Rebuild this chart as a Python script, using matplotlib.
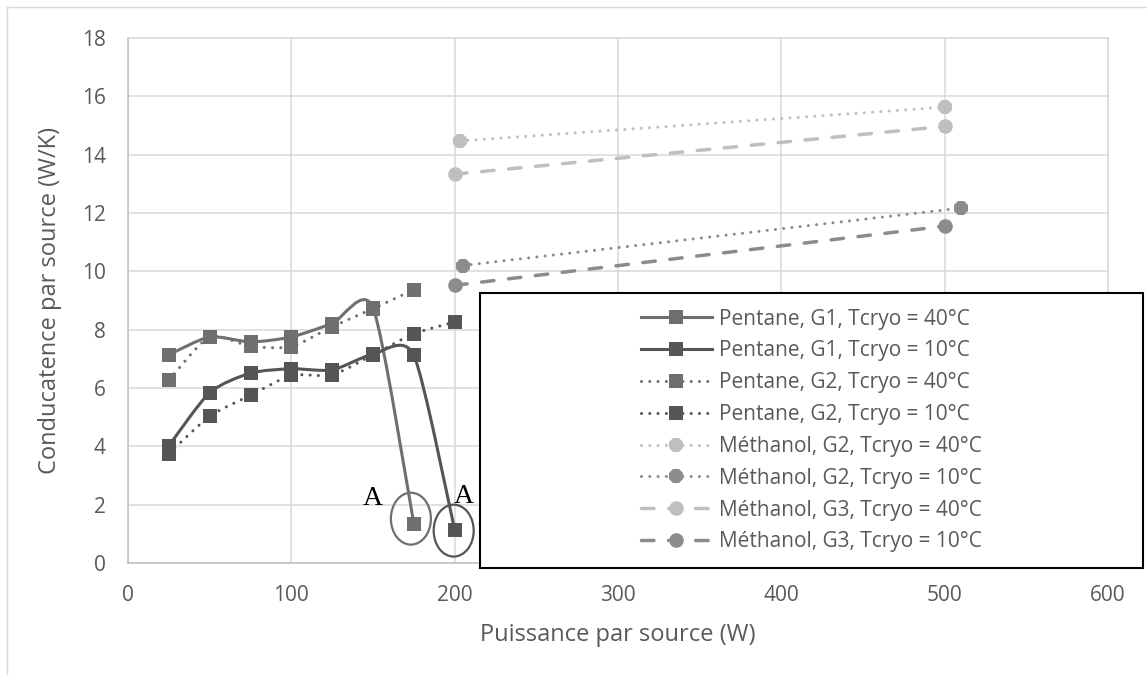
import numpy as np
import matplotlib
matplotlib.use("Agg")
import matplotlib.pyplot as plt
from matplotlib.path import Path
from matplotlib.patches import PathPatch, Ellipse, Rectangle
from matplotlib.lines import Line2D

plt.rcParams['font.family'] = ['Open Sans', 'DejaVu Sans']

# donnees
puissance_g1_40 = [25, 50, 75, 100, 125, 150, 175]
pentane_g1_40 = [7.14, 7.75, 7.58, 7.75, 8.21, 8.75, 1.35]
puissance_g1_10 = [25, 50, 75, 100, 125, 150, 175, 200]
pentane_g1_10 = [4.02, 5.84, 6.51, 6.66, 6.62, 7.16, 7.12, 1.14]
puissance_g2_40 = [25, 50, 75, 100, 125, 150, 175]
pentane_g2_40 = [6.27, 7.75, 7.43, 7.42, 8.10, 8.72, 9.37]
puissance_g2_10 = [25, 50, 75, 100, 125, 150, 175, 200]
pentane_g2_10 = [3.75, 5.03, 5.75, 6.43, 6.45, 7.14, 7.86, 8.26]

puissance_m_g2_40 = [203, 500]
methanol_g2_40 = [14.47, 15.63]
puissance_m_g2_10 = [205, 510]
methanol_g2_10 = [10.20, 12.17]
puissance_m_g3_40 = [200, 500]
methanol_g3_40 = [13.33, 14.97]
puissance_m_g3_10 = [200, 500]
methanol_g3_10 = [9.52, 11.55]

labels = ['Pentane, G1, Tcryo = 40°C', 'Pentane, G1, Tcryo = 10°C',
          'Pentane, G2, Tcryo = 40°C', 'Pentane, G2, Tcryo = 10°C',
          'Méthanol, G2, Tcryo = 40°C', 'Méthanol, G2, Tcryo = 10°C',
          'Méthanol, G3, Tcryo = 40°C', 'Méthanol, G3, Tcryo = 10°C']

gris_p40 = '#6f6f6f'
gris_p10 = '#555555'
gris_m40 = '#bfbfbf'
gris_m10 = '#8c8c8c'
pointille = (0, (0.01, 2.7))
tirets = (0, (3.6, 4.2))


def courbe_lisse(x, y, k=0.12):
    # courbe lissee facon excel (bezier)
    pts = np.column_stack([x, y]).astype(float)
    n = len(pts)
    verts = [pts[0]]
    codes = [Path.MOVETO]
    for i in range(n - 1):
        p0 = pts[i - 1] if i > 0 else pts[i]
        p1 = pts[i]
        p2 = pts[i + 1]
        p3 = pts[i + 2] if i + 2 < n else pts[i + 1]
        verts += [p1 + (p2 - p0) * k, p2 - (p3 - p1) * k, p2]
        codes += [Path.CURVE4] * 3
    return Path(verts, codes)


fig = plt.figure(figsize=(11.47, 6.75), dpi=100)
ax = fig.add_axes([128/1147, 1-563/675, 980/1147, 525/675])

series = [
    (puissance_g1_40, pentane_g1_40, gris_p40, '-', 's', 2.2),
    (puissance_g1_10, pentane_g1_10, gris_p10, '-', 's', 2.2),
    (puissance_g2_40, pentane_g2_40, gris_p40, pointille, 's', 2.2),
    (puissance_g2_10, pentane_g2_10, gris_p10, pointille, 's', 2.2),
    (puissance_m_g2_40, methanol_g2_40, gris_m40, pointille, '8', 2.2),
    (puissance_m_g2_10, methanol_g2_10, gris_m10, pointille, '8', 2.2),
    (puissance_m_g3_40, methanol_g3_40, gris_m40, tirets, 'o', 2.5),
    (puissance_m_g3_10, methanol_g3_10, gris_m10, tirets, 'o', 2.5),
]

handles = []
for x, y, c, ls, mk, lw in series:
    ax.add_patch(PathPatch(courbe_lisse(x, y), fill=False, edgecolor=c, lw=lw,
                           linestyle=ls, capstyle='round', joinstyle='round', zorder=3))
    ax.plot(x, y, linestyle='none', marker=mk, markersize=10.5, color=c, markeredgewidth=0, zorder=4)
    handles.append(Line2D([], [], color=c, lw=lw, linestyle=ls, dash_capstyle='round',
                          marker=mk, markersize=10.5, markeredgewidth=0))

# ellipses et lettres A
ax.add_patch(Ellipse((puissance_g1_40[-1] - 1.8, pentane_g1_40[-1] + 0.17), 24.5, 1.78,
                     fill=False, edgecolor=gris_p40, lw=1.6, zorder=5))
ax.add_patch(Ellipse((puissance_g1_10[-1] - 0.6, pentane_g1_10[-1] - 0.03), 24.5, 1.78,
                     fill=False, edgecolor=gris_p10, lw=1.6, zorder=5))
ax.annotate('A', (puissance_g1_40[-1], pentane_g1_40[-1]), xytext=(-29.5, 18), textcoords='offset points',
            ha='center', va='center', fontsize=20, family='Liberation Serif', color='black', zorder=6)
ax.annotate('A', (puissance_g1_10[-1], pentane_g1_10[-1]), xytext=(6.5, 23.8), textcoords='offset points',
            ha='center', va='center', fontsize=20, family='Liberation Serif', color='black', zorder=6)

ax.set_xlim(0, 600)
ax.set_ylim(0, 18)
ax.set_xticks(range(0, 601, 100))
ax.set_yticks(range(0, 19, 2))
ax.grid(True, color='#d9d9d9', lw=1.1)
ax.set_axisbelow(True)
for s in ax.spines.values():
    s.set_color('#d9d9d9')
    s.set_linewidth(1.1)
ax.spines['left'].set_color('#bfbfbf')
ax.spines['bottom'].set_color('#bfbfbf')
ax.tick_params(length=0, pad=16, labelsize=15, labelcolor='#595959')

ax.set_xlabel('Puissance par source (W)', fontsize=17, color='#595959')
ax.set_ylabel('Conducatence par source (W/K)', fontsize=17, color='#595959')
ax.xaxis.label.set_va('center')
ax.yaxis.label.set_va('center')
ax.xaxis.set_label_coords(0.5, -72/525)
ax.yaxis.set_label_coords(-78/980, 0.5)

# cadre de la legende
fig.add_artist(Rectangle((480/1147, 1-568/675), 663/1147, 275/675, transform=fig.transFigure,
                         facecolor='white', edgecolor='black', lw=1.5, zorder=4))
fig.legend(handles, labels, loc='center', bbox_to_anchor=(811.5/1147, 1-430.5/675), frameon=False,
           fontsize=15, handlelength=3.4, handletextpad=0.35, labelspacing=0.52, labelcolor='#595959')

# bordure du graphique
fig.add_artist(Line2D([7/1147, 7/1147], [0, 1-7/675], transform=fig.transFigure, color='#d9d9d9', lw=1))
fig.add_artist(Line2D([7/1147, 1], [1-7/675, 1-7/675], transform=fig.transFigure, color='#d9d9d9', lw=1))

fig.savefig('out.png', dpi=100)
